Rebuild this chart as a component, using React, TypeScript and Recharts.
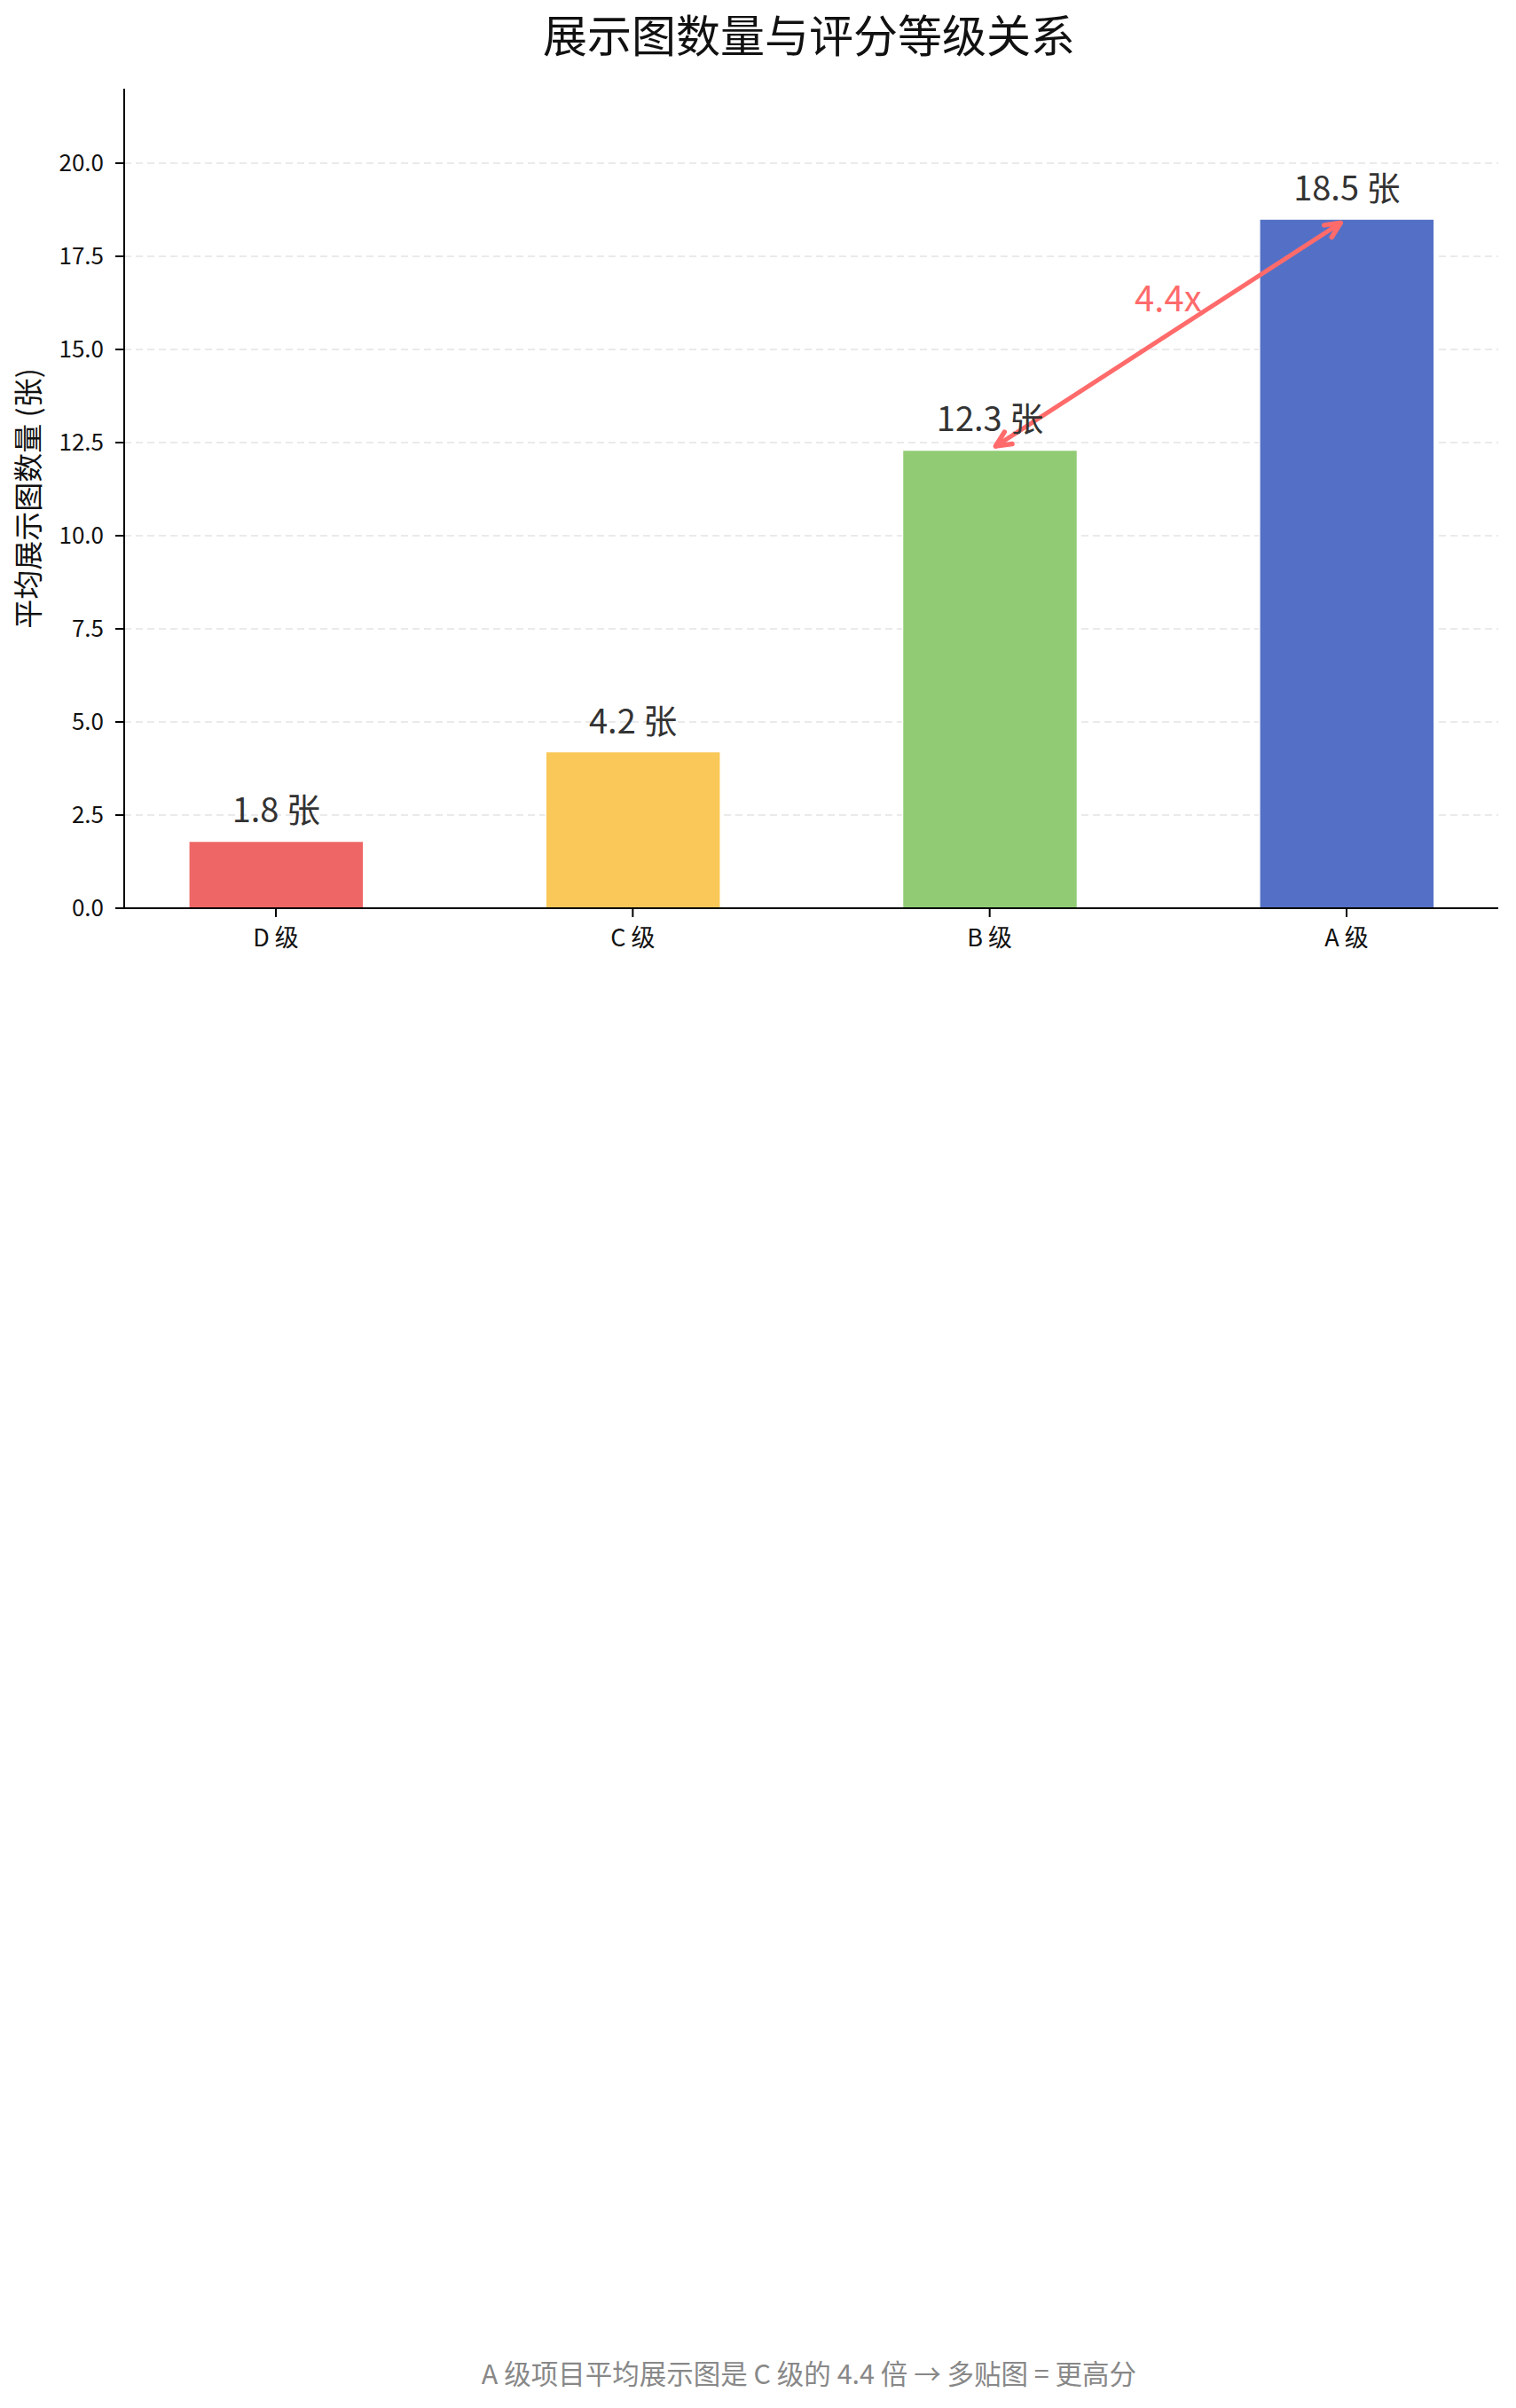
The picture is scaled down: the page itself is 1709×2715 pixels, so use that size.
import React from 'react';
import { BarChart, Bar, XAxis, YAxis, CartesianGrid, Cell, LabelList, ReferenceLine, ReferenceDot } from 'recharts';

const FONT = '"Noto Sans CJK SC", "Noto Sans", sans-serif';

const categories = ['D 级', 'C 级', 'B 级', 'A 级'];
const values = [1.8, 4.2, 12.3, 18.5];
const colors = ['#EE6666', '#FAC858', '#91CC75', '#5470C6'];
const yTicks = [0, 2.5, 5, 7.5, 10, 12.5, 15, 17.5, 20];
const xTicks = [0, 1, 2, 3];
const arrowFrom = { x: 2, y: 12.3 };
const arrowTo = { x: 3, y: 18.5 };
const ratioLabel = { x: 2.5, y: 16, text: '4.4x' };
const titleText = '展示图数量与评分等级关系';
const yLabelText = '平均展示图数量 (张)';
const footerText = 'A 级项目平均展示图是 C 级的 4.4 倍 → 多贴图 = 更高分';

const data = categories.map((c, i) => ({ idx: i, name: c, value: values[i] }));

const XTick = (props: any) => {
  const { x, y, payload } = props;
  return (
    <text x={x} y={y + 33} textAnchor="middle" fontSize={27} fill="#111" fontFamily={FONT}>
      {categories[payload.value]}
    </text>
  );
};

const BarLabel = (props: any) => {
  const { x, y, width, value } = props;
  return (
    <text x={x + width / 2} y={y - 21} textAnchor="middle" fontSize={38} fill="#333" fontFamily={FONT}>
      {`${value} 张`}
    </text>
  );
};

const ArrowShape = (props: any) => {
  const { x1, y1, x2, y2 } = props;
  if ([x1, y1, x2, y2].some((v) => typeof v !== 'number' || isNaN(v))) return null;
  const dx = x2 - x1;
  const dy = y2 - y1;
  const len = Math.sqrt(dx * dx + dy * dy);
  const ux = dx / len;
  const uy = dy / len;
  const shrink = 8;
  const ax = x1 + ux * shrink;
  const ay = y1 + uy * shrink;
  const bx = x2 - ux * shrink;
  const by = y2 - uy * shrink;
  const hl = 17;
  const hw = 8;
  const px = -uy;
  const py = ux;
  const head = (tx: number, ty: number, dirx: number, diry: number) => {
    const baseX = tx - dirx * hl;
    const baseY = ty - diry * hl;
    return `M ${baseX + px * hw} ${baseY + py * hw} L ${tx} ${ty} L ${baseX - px * hw} ${baseY - py * hw}`;
  };
  const col = '#FF6B6B';
  return (
    <g>
      <line x1={ax} y1={ay} x2={bx} y2={by} stroke={col} strokeWidth={5} strokeLinecap="round" />
      <path d={head(bx, by, ux, uy)} stroke={col} strokeWidth={5.5} fill="none" strokeLinecap="round" strokeLinejoin="round" />
      <path d={head(ax, ay, -ux, -uy)} stroke={col} strokeWidth={5.5} fill="none" strokeLinecap="round" strokeLinejoin="round" />
    </g>
  );
};

const RatioText = (props: any) => {
  const { cx, cy } = props;
  if (typeof cx !== 'number' || typeof cy !== 'number') return null;
  return (
    <text x={cx} y={cy - 1} textAnchor="middle" fontSize={40} fill="#FF6B6B" fontFamily={FONT}>
      {ratioLabel.text}
    </text>
  );
};

export default function App() {
  return (
    <div style={{ position: 'absolute', left: 0, top: 0, width: 1709, height: 2715, background: '#fff' }}>
      <BarChart
        width={1709}
        height={2715}
        data={data}
        margin={{ top: 100, right: 20, left: 0, bottom: 1631 }}
      >
        <CartesianGrid
          vertical={false}
          horizontalValues={yTicks}
          stroke="#E3E3E3"
          strokeWidth={1.6}
          strokeDasharray="8 5"
        />
        <XAxis
          dataKey="idx"
          type="number"
          domain={[-0.425, 3.425]}
          ticks={xTicks}
          allowDataOverflow
          height={60}
          tickSize={10}
          tickMargin={0}
          axisLine={{ stroke: '#000', strokeWidth: 2 }}
          tickLine={{ stroke: '#000', strokeWidth: 2 }}
          tick={<XTick />}
          interval={0}
        />
        <YAxis
          type="number"
          domain={[0, 22]}
          ticks={yTicks}
          allowDataOverflow
          width={140}
          tickSize={10}
          tickMargin={13}
          axisLine={{ stroke: '#000', strokeWidth: 2 }}
          tickLine={{ stroke: '#000', strokeWidth: 2 }}
          tick={{ fontSize: 26, fill: '#111', fontFamily: FONT }}
          tickFormatter={(v: number) => v.toFixed(1)}
          interval={0}
        />
        <Bar dataKey="value" barSize={197} isAnimationActive={false} stroke="#fff" strokeWidth={1.5}>
          {data.map((d, i) => (
            <Cell key={d.name} fill={colors[i]} />
          ))}
          <LabelList dataKey="value" content={<BarLabel />} />
        </Bar>
        <ReferenceLine
          segment={[arrowFrom, arrowTo]}
          shape={<ArrowShape />}
          ifOverflow="visible"
        />
        <ReferenceDot x={ratioLabel.x} y={ratioLabel.y} r={1} shape={<RatioText />} ifOverflow="visible" />
      </BarChart>
      <svg
        width={1709}
        height={2715}
        style={{ position: 'absolute', left: 0, top: 0, pointerEvents: 'none' }}
      >
        <text x={912} y={59} textAnchor="middle" fontSize={50} fill="#111" fontFamily={FONT}>
          {titleText}
        </text>
        <text
          x={44}
          y={562}
          textAnchor="middle"
          fontSize={33}
          fill="#111"
          fontFamily={FONT}
          transform="rotate(-90, 44, 562)"
        >
          {yLabelText}
        </text>
        <text x={912} y={2688} textAnchor="middle" fontSize={30.5} fill="#888" fontFamily={FONT}>
          {footerText}
        </text>
      </svg>
    </div>
  );
}
